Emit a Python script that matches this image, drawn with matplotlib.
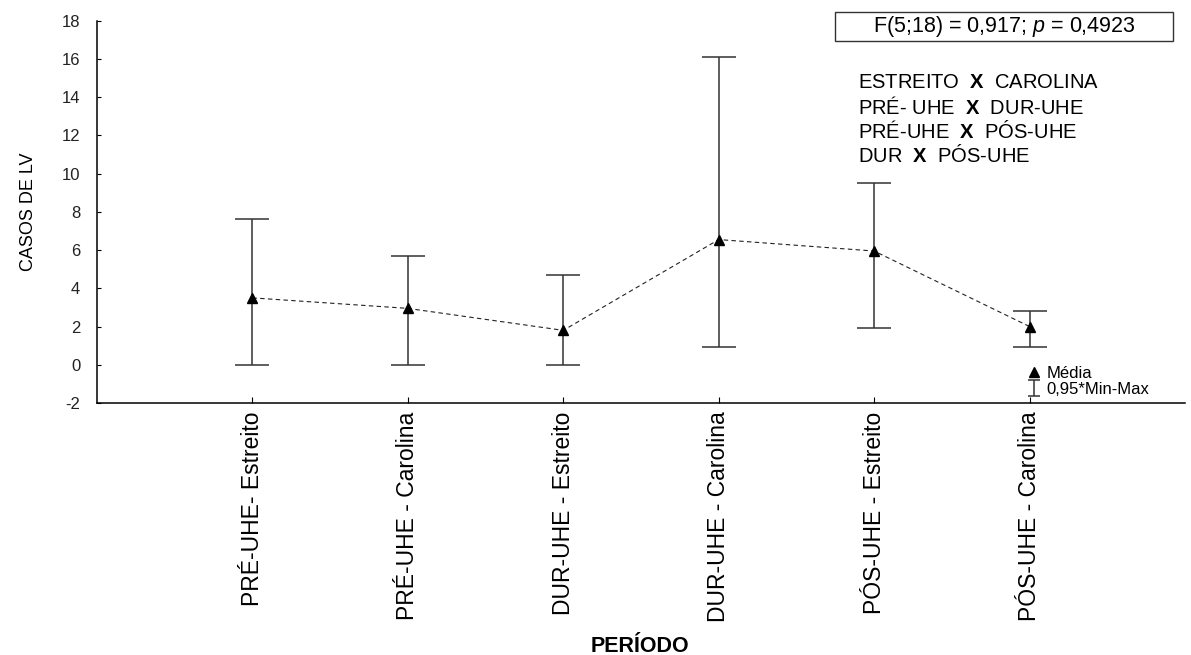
import numpy as np
import matplotlib
matplotlib.use("Agg")
import matplotlib.pyplot as plt
from matplotlib.patches import Rectangle
from matplotlib.legend_handler import HandlerErrorbar

# data
categorias = ["PRÉ-UHE- Estreito", "PRÉ-UHE - Carolina", "DUR-UHE - Estreito",
              "DUR-UHE - Carolina", "PÓS-UHE - Estreito", "PÓS-UHE - Carolina"]
media = [3.5, 2.95, 1.8, 6.55, 5.95, 2.0]
minimo = [0.0, 0.0, 0.0, 0.95, 1.9, 0.95]
maximo = [7.6, 5.7, 4.7, 16.1, 9.5, 2.8]

comparacoes = ["ESTREITO  $\\bf{X}$  CAROLINA",
               "PRÉ- UHE  $\\bf{X}$  DUR-UHE",
               "PRÉ-UHE  $\\bf{X}$  PÓS-UHE",
               "DUR  $\\bf{X}$  PÓS-UHE"]
teste = "F(5;18) = 0,917; $\\it{p}$ = 0,4923"

plt.rcParams["font.family"] = "Liberation Sans"
plt.rcParams["mathtext.fontset"] = "custom"
plt.rcParams["mathtext.rm"] = "Liberation Sans"
plt.rcParams["mathtext.bf"] = "Liberation Sans:bold"
plt.rcParams["mathtext.it"] = "Liberation Sans:italic"
plt.rcParams["axes.unicode_minus"] = False

W, H = 1191, 655
fig = plt.figure(figsize=(W / 100, H / 100), dpi=100)
ax = fig.add_axes([97 / W, 1 - 403 / H, (1185 - 97) / W, (403 - 20.7) / H])

x = np.arange(len(categorias))
media = np.array(media)
lo = media - np.array(minimo)
hi = np.array(maximo) - media

ax.plot(x, media, ls=(0, (4, 3)), lw=0.8, color="#222222")
ax.errorbar(x, media, yerr=[lo, hi], fmt="none", ecolor="#333333",
            elinewidth=1.1, capsize=12, capthick=1.1)
mk, = ax.plot(x, media, ls="none", marker="^", ms=6.5, color="black",
              label="Média")
# legend-only proxy for the min-max whiskers (nothing drawn)
eb = ax.errorbar([np.nan], [np.nan], yerr=[[1], [1]], fmt="none",
                 ecolor="#333333", elinewidth=1.1, capsize=4, capthick=1.1,
                 label="0,95*Min-Max")

ax.set_xlim(-1, 6)
ax.set_ylim(-2, 18)
ax.set_yticks(np.arange(-2, 19, 2))
ax.set_xticks(x)
ax.set_xticklabels(categorias, rotation=90, fontsize=16.5)
ax.tick_params(axis="y", direction="in", length=3, labelsize=12, pad=12,
               labelcolor="#222222")
ax.tick_params(axis="x", direction="in", length=4, pad=6)
for s in ["top", "right"]:
    ax.spines[s].set_visible(False)
for s in ["left", "bottom"]:
    ax.spines[s].set_linewidth(1.1)

ax.set_ylabel("CASOS DE LV", fontsize=13, labelpad=18)
ax.set_xlabel("PERÍODO", fontsize=15.5, fontweight="bold")
ax.xaxis.set_label_coords(0.499, (403 - 636) / 382.3)

ax.legend(handles=[mk, eb], loc="lower left",
          bbox_to_anchor=((1026 - 97) / 1088, 0.016), frameon=False,
          fontsize=12, handlelength=0.9, handletextpad=0.35,
          labelspacing=0.05, borderpad=0.0, borderaxespad=0.0,
          handler_map={eb: HandlerErrorbar(yerr_size=0.5)})

fig.add_artist(Rectangle((835 / W, 1 - 41 / H), 338 / W, 29 / H,
                         transform=fig.transFigure, fc="white",
                         ec="#333333", lw=1))
fig.text(1004 / W, 1 - 26.5 / H, teste, fontsize=15.5, ha="center",
         va="center")
for i, t in enumerate(comparacoes):
    fig.text(858 / W, 1 - (82 + 24.5 * i) / H, t, fontsize=14.5, va="center")

fig.savefig("out.png", dpi=100)
